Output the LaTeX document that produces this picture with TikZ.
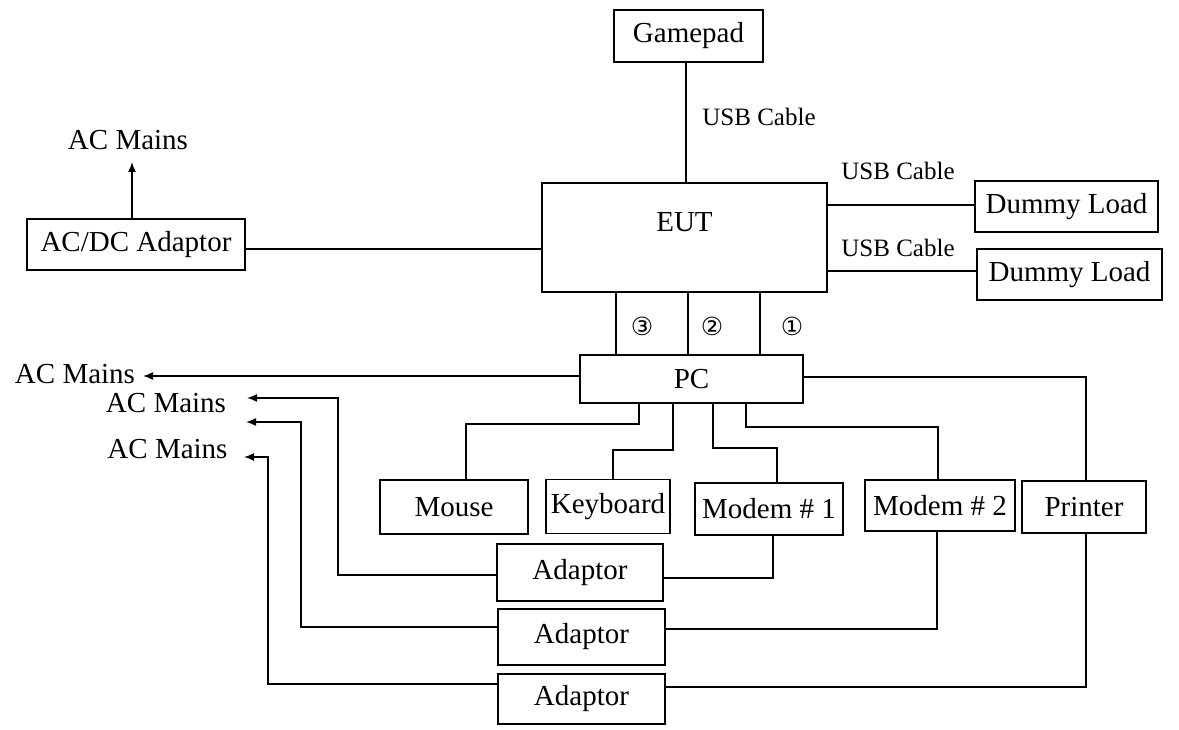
\documentclass[tikz,border=0pt]{standalone}
\usepackage{fontspec}
\setmainfont{Liberation Serif}
\newfontfamily\symfont{DejaVu Sans}
\usetikzlibrary{arrows.meta}
\begin{document}
\begin{tikzpicture}[x=1pt,y=-1pt, line width=1.5pt,
  box/.style={draw, inner sep=0pt, font=\fontsize{29}{32}\selectfont},
  lbl/.style={inner sep=0pt, font=\fontsize{29}{32}\selectfont},
  usb/.style={inner sep=0pt, font=\fontsize{25}{28}\selectfont},
  num/.style={inner sep=0pt, font=\symfont\fontsize{25}{28}\selectfont},
  arr/.style={-{Latex[length=10pt,width=8pt]}}]
\useasboundingbox (0,0) rectangle (1179,730);

% boxes
\node[box, minimum width=149pt, minimum height=52pt] (gp) at (688.5,36) {Gamepad};
\node[box, minimum width=285pt, minimum height=109pt] (eut) at (684.5,237.5) {};
\node[lbl] (eutlbl) at (684.5,222) {EUT};
\node[box, minimum width=183pt, minimum height=51pt] (dl1) at (1066.5,206.5) {Dummy Load};
\node[box, minimum width=185pt, minimum height=51pt] (dl2) at (1069.5,274.5) {Dummy Load};
\node[box, minimum width=218pt, minimum height=51pt] (acdc) at (136,244.5) {AC/DC Adaptor};
\node[box, minimum width=223pt, minimum height=48pt] (pc) at (691.5,379) {PC};
\node[box, minimum width=148pt, minimum height=54pt] (mo) at (454,507) {Mouse};
\node[box, minimum width=124pt, minimum height=54pt] (kb) at (608,506.5) {Keyboard};
\node[box, minimum width=148pt, minimum height=52pt] (m1) at (769,509) {Modem \# 1};
\node[box, minimum width=150pt, minimum height=51pt] (m2) at (940,505.5) {Modem \# 2};
\node[box, minimum width=124pt, minimum height=52pt] (pr) at (1084,507) {Printer};
\node[box, minimum width=166pt, minimum height=57pt] (a1) at (580,572.5) {Adaptor};
\node[box, minimum width=167pt, minimum height=56pt] (a2) at (581.5,637) {Adaptor};
\node[box, minimum width=167pt, minimum height=50pt] (a3) at (581.5,699) {Adaptor};

% labels
\node[lbl] (acm0) at (128,140) {AC Mains};
\node[lbl] (acm1) at (75,374) {AC Mains};
\node[lbl] (acm2) at (166,403) {AC Mains};
\node[lbl] (acm3) at (167.5,449) {AC Mains};
\node[usb] (usb0) at (759,117) {USB Cable};
\node[usb] (usb1) at (898,171) {USB Cable};
\node[usb] (usb2) at (898,248) {USB Cable};
\node[num] (n3) at (642,326) {③};
\node[num] (n2) at (712,326) {②};
\node[num] (n1) at (792,326) {①};

% coordinates
\coordinate (t0) at (132,162);
\coordinate (t1) at (143,376);
\coordinate (t2) at (247,398);
\coordinate (t3) at (246,422);
\coordinate (t4) at (244,457);
\coordinate (c2) at (338,398);
\coordinate (c3) at (301,422);
\coordinate (c4) at (268,457);
\coordinate (k1) at (466,424);
\coordinate (k2) at (613,450);
\coordinate (k3) at (777,448);
\coordinate (k4) at (938,427);

% connectors top
\draw ([xshift=-2.5pt]gp.south) -- ([xshift=-2.5pt]gp.south |- eut.north);
\draw[arr] ([xshift=-4pt]acdc.north) -- (t0);
\draw ([yshift=-4.5pt]acdc.east) -- ([yshift=-4.5pt]acdc.east -| eut.west);
\draw ([yshift=32.5pt]eut.east) -- ([yshift=32.5pt]eut.east -| dl1.west);
\draw ([yshift=-33.5pt]eut.east) -- ([yshift=-33.5pt]eut.east -| dl2.west);

% EUT to PC
\draw ([xshift=-68.5pt]eut.south) -- ([xshift=-68.5pt]eut.south |- pc.north);
\draw ([xshift=3.5pt]eut.south) -- ([xshift=3.5pt]eut.south |- pc.north);
\draw ([xshift=75.5pt]eut.south) -- ([xshift=75.5pt]eut.south |- pc.north);

% PC to AC mains and printer
\draw[arr] ([yshift=3pt]pc.west) -- (t1);
\draw ([yshift=2pt]pc.east) -| ([xshift=2pt]pr.north);

% PC to peripherals
\draw ([xshift=-52.5pt]pc.south) |- (k1) -- (k1 |- mo.north);
\draw ([xshift=-18.5pt]pc.south) |- (k2) -- (k2 |- kb.north);
\draw ([xshift=21.5pt]pc.south) |- (k3) -- (k3 |- m1.north);
\draw ([xshift=54.5pt]pc.south) |- (k4) -- (k4 |- m2.north);

% adaptors
\draw[arr] ([yshift=-2.5pt]a1.west) -| (c2) -- (t2);
\draw[arr] ([yshift=10pt]a2.west) -| (c3) -- (t3);
\draw[arr] ([yshift=15pt]a3.west) -| (c4) -- (t4);
\draw ([yshift=-5.5pt]a1.east) -| ([xshift=4pt]m1.south);
\draw ([yshift=8pt]a2.east) -| ([xshift=-3pt]m2.south);
\draw ([yshift=12pt]a3.east) -| ([xshift=2pt]pr.south);
\end{tikzpicture}
\end{document}
